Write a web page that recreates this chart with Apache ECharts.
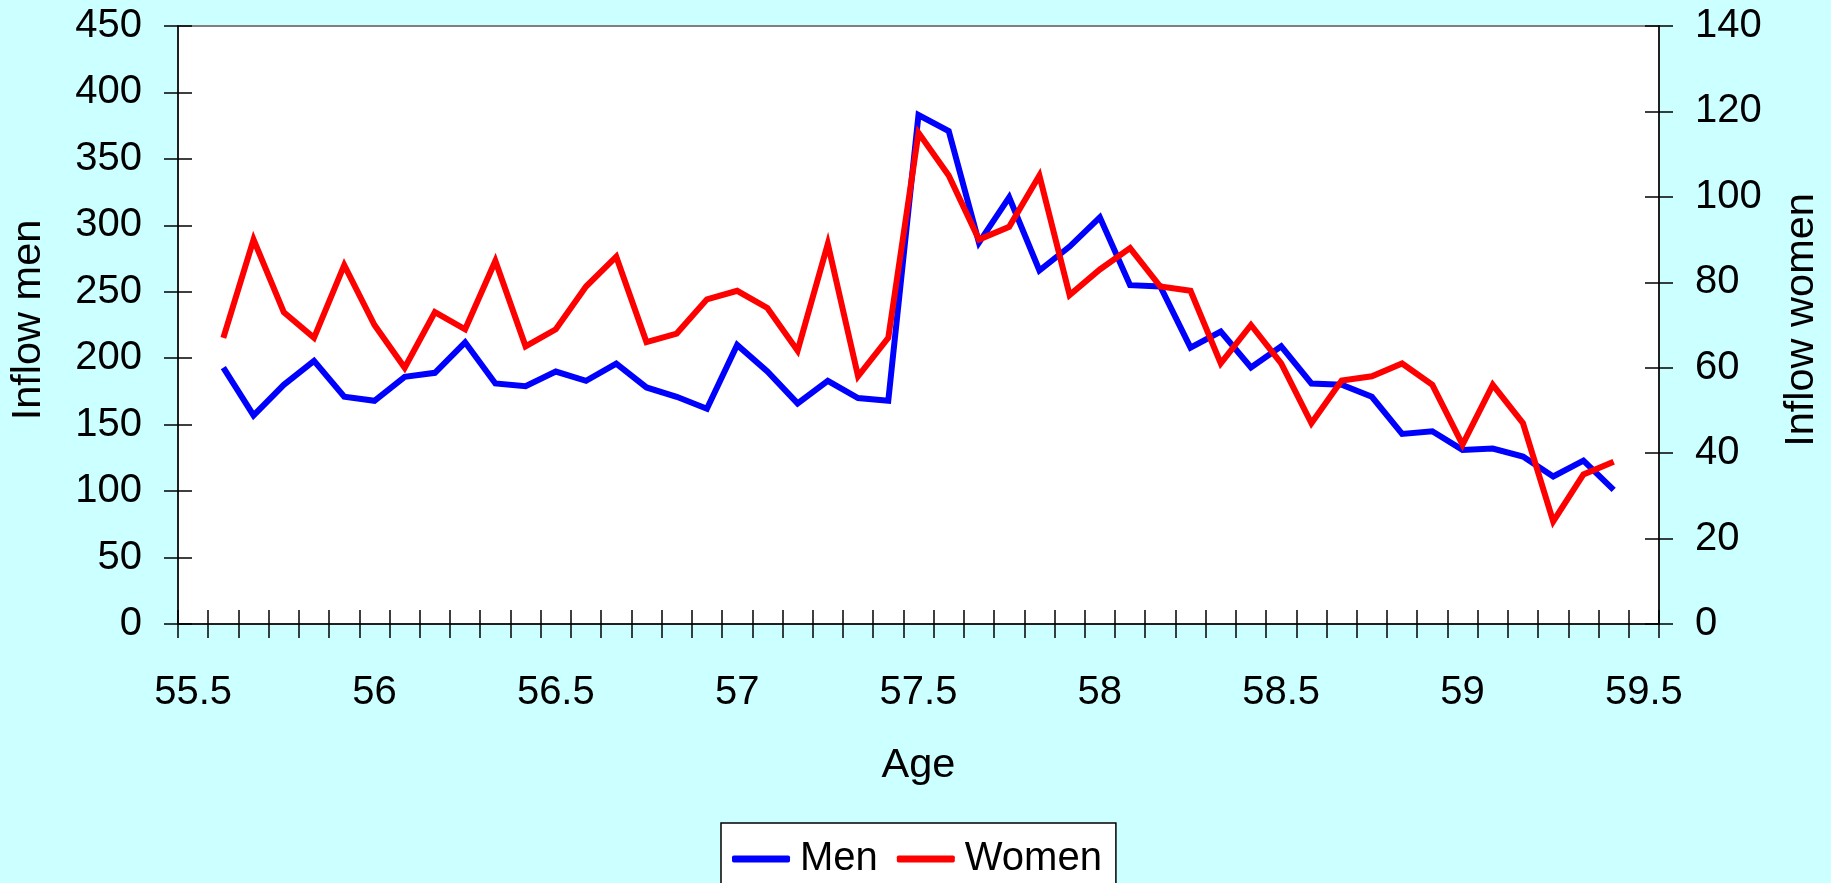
<!DOCTYPE html>
<html>
<head>
<meta charset="utf-8">
<title>Inflow by age</title>
<script src="https://cdn.jsdelivr.net/npm/echarts@6/dist/echarts.min.js"></script>
<style>
  html, body { margin: 0; padding: 0; background: #ccffff; }
  #chart { width: 1831px; height: 883px; }
</style>
</head>
<body>
<div id="chart"></div>
<script>
// Age in years, one slot per month from 55.5 to 59.5
const ages = [
  '55.5', '55.58', '55.67', '55.75', '55.83', '55.92',
  '56', '56.08', '56.17', '56.25', '56.33', '56.42',
  '56.5', '56.58', '56.67', '56.75', '56.83', '56.92',
  '57', '57.08', '57.17', '57.25', '57.33', '57.42',
  '57.5', '57.58', '57.67', '57.75', '57.83', '57.92',
  '58', '58.08', '58.17', '58.25', '58.33', '58.42',
  '58.5', '58.58', '58.67', '58.75', '58.83', '58.92',
  '59', '59.08', '59.17', '59.25', '59.33', '59.42',
  '59.5'
];

// Monthly inflow, men (left axis)
const inflowMen = [
  null,
  193, 157, 180, 198, 171, 168, 186, 189, 212, 181, 179, 190,
  183, 196, 178, 171, 162, 210, 190, 166, 183, 170, 168, 383,
  371, 287, 321, 266, 284, 306, 255, 254, 208, 220, 193, 209,
  181, 180, 171, 143, 145, 131, 132, 126, 111, 123, 101,
  null
];

// Monthly inflow, women (right axis)
const inflowWomen = [
  null,
  67, 90, 73, 67, 84, 70, 60, 73, 69, 85, 65, 69,
  79, 86, 66, 68, 76, 78, 74, 64, 89, 58, 67, 115,
  105, 90, 93, 105, 77, 83, 88, 79, 78, 61, 70, 61,
  47, 57, 58, 61, 56, 42, 56, 47, 24, 35, 38,
  null
];

const FONT = '"Liberation Sans", Arial, sans-serif';
const TXT = { color: '#000', fontFamily: FONT, fontSize: 40 };
const NAME_TXT = { color: '#000', fontFamily: FONT, fontSize: 41.5 };

const chart = echarts.init(document.getElementById('chart'), null, { renderer: 'canvas' });

const tickStyle = { color: '#000', width: 1.5 };

chart.setOption({
  backgroundColor: '#ccffff',
  animation: false,
  grid: {
    left: 176, top: 26, right: 167, bottom: 259,
    show: true, backgroundColor: '#ffffff',
    borderColor: '#808080', borderWidth: 2
  },
  legend: {
    data: [
      { name: 'Men', icon: 'roundRect' },
      { name: 'Women', icon: 'roundRect' }
    ],
    left: 721, top: 823,
    itemWidth: 58, itemHeight: 7, itemGap: 19,
    padding: [16, 14, 40, 11],
    backgroundColor: '#ffffff',
    borderColor: '#000', borderWidth: 1.5,
    textStyle: Object.assign({}, TXT, { padding: [0, 0, 0, 5] })
  },
  xAxis: [
    {
      type: 'category', data: ages, boundaryGap: true,
      name: 'Age', nameLocation: 'middle', nameGap: 121,
      nameTextStyle: NAME_TXT,
      axisLine: { onZero: false, lineStyle: { color: '#000', width: 1.5 } },
      axisTick: { show: true, interval: 0, length: 14, lineStyle: tickStyle },
      axisLabel: Object.assign({}, TXT, { interval: 5, margin: 49 }),
      splitLine: { show: false }
    },
    {
      type: 'category', data: ages, boundaryGap: true, position: 'bottom',
      axisLine: { show: false },
      axisTick: { show: true, inside: true, interval: 0, length: 14, lineStyle: tickStyle },
      axisLabel: { show: false },
      splitLine: { show: false }
    }
  ],
  yAxis: [
    {
      type: 'value', position: 'left', min: 0, max: 450, interval: 50,
      name: 'Inflow men', nameLocation: 'middle', nameGap: 128, nameRotate: 90,
      nameTextStyle: Object.assign({}, NAME_TXT, { padding: [0, 0, 0, 10] }),
      axisLine: { show: true, lineStyle: { color: '#000', width: 1.5 } },
      axisTick: { show: true, length: 14, lineStyle: tickStyle },
      axisLabel: Object.assign({}, TXT, { margin: 36 }),
      splitLine: { show: false }
    },
    {
      type: 'value', position: 'right', min: 0, max: 140, interval: 20,
      name: 'Inflow women', nameLocation: 'middle', nameGap: 122, nameRotate: 90,
      nameTextStyle: Object.assign({}, NAME_TXT, { padding: [0, 0, 0, 10] }),
      axisLine: { show: true, lineStyle: { color: '#000', width: 1.5 } },
      axisTick: { show: true, length: 14, lineStyle: tickStyle },
      axisLabel: Object.assign({}, TXT, { margin: 36 }),
      splitLine: { show: false }
    },
    {
      type: 'value', position: 'left', min: 0, max: 450, interval: 50,
      axisLine: { show: false },
      axisTick: { show: true, inside: true, length: 14, lineStyle: tickStyle },
      axisLabel: { show: false },
      splitLine: { show: false }
    },
    {
      type: 'value', position: 'right', min: 0, max: 140, interval: 20,
      axisLine: { show: false },
      axisTick: { show: true, inside: true, length: 14, lineStyle: tickStyle },
      axisLabel: { show: false },
      splitLine: { show: false }
    }
  ],
  series: [
    {
      name: 'Men', type: 'line', data: inflowMen,
      xAxisIndex: 0, yAxisIndex: 0,
      showSymbol: false, symbol: 'none',
      itemStyle: { color: '#0000ff' },
      lineStyle: { color: '#0000ff', width: 6, join: 'miter' },
      z: 3
    },
    {
      name: 'Women', type: 'line', data: inflowWomen,
      xAxisIndex: 0, yAxisIndex: 1,
      showSymbol: false, symbol: 'none',
      itemStyle: { color: '#ff0000' },
      lineStyle: { color: '#ff0000', width: 6, join: 'miter' },
      z: 4
    }
  ]
});
</script>
</body>
</html>
